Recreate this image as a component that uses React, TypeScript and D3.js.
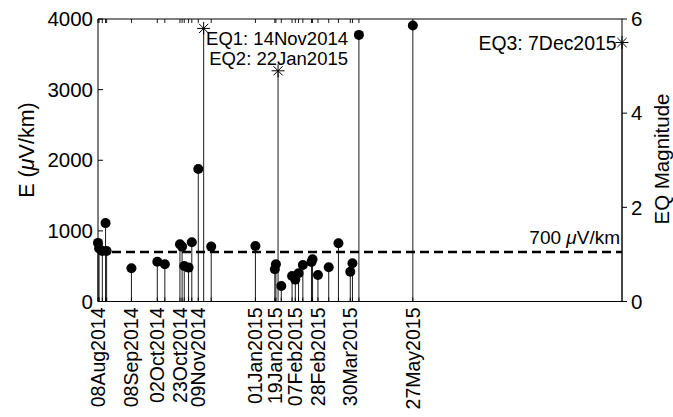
import React from "react";
import * as d3 from "d3";

const obsDates = [
  "2014-08-08", "2014-08-09", "2014-08-12", "2014-08-15", "2014-08-16",
  "2014-09-08", "2014-10-02", "2014-10-09", "2014-10-23", "2014-10-25",
  "2014-10-27", "2014-10-31", "2014-11-03", "2014-11-09", "2014-11-21",
  "2015-01-01", "2015-01-19", "2015-01-20", "2015-01-25", "2015-02-04",
  "2015-02-07", "2015-02-10", "2015-02-14", "2015-02-22", "2015-02-23",
  "2015-02-28", "2015-03-10", "2015-03-19", "2015-03-30", "2015-04-01",
  "2015-04-07", "2015-05-27",
];
const eValues = [
  830, 750, 715, 1110, 715,
  470, 564, 527, 810, 777,
  503, 480, 838, 1877, 777,
  786, 456, 527, 220, 361,
  310, 400, 517, 560, 598,
  375, 485, 824, 422, 541,
  3775, 3907,
];

const eqDates = ["2014-11-14", "2015-01-22", "2015-12-07"];
const eqMagnitudes = [5.8, 4.9, 5.5];
const eqLabels = ["EQ1: 14Nov2014", "EQ2: 22Jan2015", "EQ3: 7Dec2015"];

const xTickDates = [
  "2014-08-08", "2014-09-08", "2014-10-02", "2014-10-23", "2014-11-09",
  "2015-01-01", "2015-01-19", "2015-02-07", "2015-02-28", "2015-03-30", "2015-05-27",
];
const xTickLabels = [
  "08Aug2014", "08Sep2014", "02Oct2014", "23Oct2014", "09Nov2014",
  "01Jan2015", "19Jan2015", "07Feb2015", "28Feb2015", "30Mar2015", "27May2015",
];
const leftTicks = [0, 1000, 2000, 3000, 4000];
const rightTicks = [0, 2, 4, 6];
const threshold = 700;
const thresholdLabel = "700 ";

const parse = d3.utcParse("%Y-%m-%d");

export default function App() {
  const W = 673, H = 417;
  const L = 98, R = 622, T = 19, B = 301.5;
  const font = "'Liberation Sans', Arial, Helvetica, sans-serif";

  const x = d3.scaleUtc().domain([parse("2014-08-08")!, parse("2015-12-07")!]).range([L, R]);
  const yL = d3.scaleLinear().domain([0, 4000]).range([B, T]);
  const yR = d3.scaleLinear().domain([0, 6]).range([B, T]);

  const pts = obsDates.map((d, i) => ({ x: x(parse(d)!), y: yL(eValues[i]) }));
  const eqs = eqDates.map((d, i) => ({ x: x(parse(d)!), y: yR(eqMagnitudes[i]), label: eqLabels[i] }));

  const star = (cx: number, cy: number, r: number) => {
    const a = r * 0.7071;
    return `M${cx - r},${cy}L${cx + r},${cy}M${cx},${cy - r}L${cx},${cy + r}M${cx - a},${cy - a}L${cx + a},${cy + a}M${cx - a},${cy + a}L${cx + a},${cy - a}`;
  };

  return (
    <svg width={W} height={H} style={{ position: "absolute", left: 0, top: 0, background: "#fff" }} fontFamily={font}>
      <rect x={0} y={0} width={W} height={H} fill="#fff" />
      {pts.map((p, i) => (
        <line key={"s" + i} x1={p.x} x2={p.x} y1={B} y2={p.y} stroke="#000" strokeWidth={0.9} />
      ))}
      {eqs.map((e, i) => (
        <line key={"es" + i} x1={e.x} x2={e.x} y1={B} y2={e.y} stroke="#000" strokeWidth={0.9} />
      ))}
      <line x1={L} x2={R} y1={yL(threshold)} y2={yL(threshold)} stroke="#000" strokeWidth={2.6} strokeDasharray="9,5" />
      <text x={620} y={yL(threshold) - 8} textAnchor="end" fontSize={19} fill="#000">
        {thresholdLabel}
        <tspan fontStyle="italic">μ</tspan>V/km
      </text>
      {pts.map((p, i) => (
        <circle key={"c" + i} cx={p.x} cy={p.y} r={5} fill="#000" />
      ))}
      {eqs.map((e, i) => (
        <path key={"st" + i} d={star(e.x, e.y, 6.5)} stroke="#000" strokeWidth={1} fill="none" />
      ))}
      <text x={348} y={45} textAnchor="end" fontSize={18.5} fill="#000">{eqs[0].label}</text>
      <text x={348} y={65} textAnchor="end" fontSize={18.5} fill="#000">{eqs[1].label}</text>
      <text x={eqs[2].x - 5.5} y={50} textAnchor="end" fontSize={19.4} fill="#000">{eqs[2].label}</text>
      <line x1={L} x2={R} y1={T} y2={T} stroke="#000" strokeWidth={1} />
      <line x1={L} x2={R} y1={B} y2={B} stroke="#000" strokeWidth={1.2} />
      <line x1={L} x2={L} y1={T} y2={B} stroke="#000" strokeWidth={1} />
      <line x1={R} x2={R} y1={T} y2={B} stroke="#000" strokeWidth={1} />
      {pts.map((p, i) => (
        <g key={"xt" + i}>
          <line x1={p.x} x2={p.x} y1={B} y2={B - 4} stroke="#000" strokeWidth={0.9} />
          <line x1={p.x} x2={p.x} y1={T} y2={T + 4} stroke="#000" strokeWidth={0.9} />
        </g>
      ))}
      {xTickDates.map((d, i) => {
        const px = x(parse(d)!);
        return (
          <text key={"xl" + i} transform={`translate(${px},${B + 6}) rotate(-90)`} textAnchor="end" dy="0.35em" fontSize={19.5} fill="#000">
            {xTickLabels[i]}
          </text>
        );
      })}
      {leftTicks.map((t) => (
        <g key={"yl" + t}>
          <line x1={L} x2={L + 5} y1={yL(t)} y2={yL(t)} stroke="#000" strokeWidth={1} />
          <text x={L - 5} y={yL(t)} dy="0.35em" textAnchor="end" fontSize={20.5} fill="#000">{t}</text>
        </g>
      ))}
      {rightTicks.map((t) => (
        <g key={"yr" + t}>
          <line x1={R} x2={R + 5} y1={yR(t)} y2={yR(t)} stroke="#000" strokeWidth={1} />
          <text x={R + 9} y={yR(t)} dy="0.35em" textAnchor="start" fontSize={20.5} fill="#000">{t}</text>
        </g>
      ))}
      <text transform={`translate(34,150) rotate(-90)`} textAnchor="middle" fontSize={21.5} fill="#000">
        E (<tspan fontStyle="italic">μ</tspan>V/km)
      </text>
      <text transform={`translate(668.5,159) rotate(-90)`} textAnchor="middle" fontSize={20.5} fill="#000">
        EQ Magnitude
      </text>
    </svg>
  );
}
